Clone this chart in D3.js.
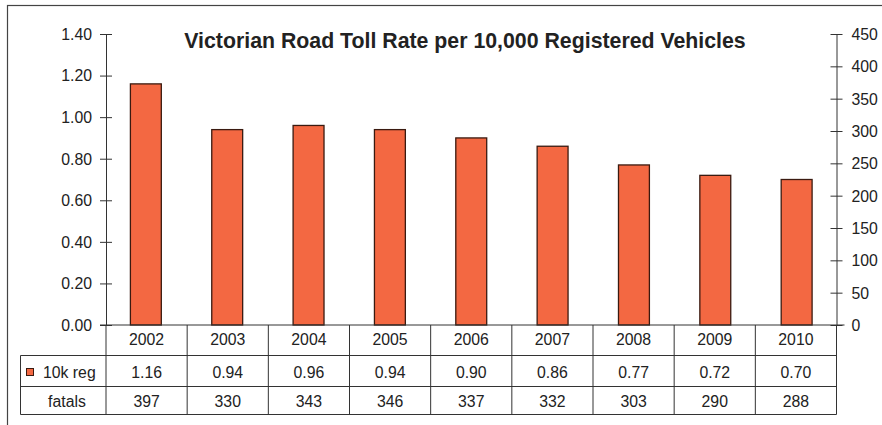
<!DOCTYPE html>
<html><head><meta charset="utf-8">
<script src="https://cdn.jsdelivr.net/npm/d3@7"></script>
<style>body{margin:0;background:#fff}svg{display:block}text{font-family:Arial,"Liberation Sans",sans-serif}</style>
</head><body>
<svg id="c" width="882" height="425"></svg>
<script>
const years = ["2002","2003","2004","2005","2006","2007","2008","2009","2010"];
const rate10k = [1.16,0.94,0.96,0.94,0.90,0.86,0.77,0.72,0.70];
const fatals = [397,330,343,346,337,332,303,290,288];
const leftTicks = [0,0.2,0.4,0.6,0.8,1.0,1.2,1.4];
const rightTicks = [0,50,100,150,200,250,300,350,400,450];
const title = "Victorian Road Toll Rate per 10,000 Registered Vehicles";
const seriesName = "10k reg", row2Name = "fatals";

const FONT = "Arial, 'Liberation Sans', sans-serif";
const FS = 15.8;
const svg = d3.select("#c");
const L = 106, R = 836.5, T = 34, B = 325;
const barColor = "#f36842";
svg.append("rect").attr("x",7.5).attr("y",5.5).attr("width",880).attr("height",425).attr("fill","none").attr("stroke","#444").attr("stroke-width",1.2);

const x = d3.scaleBand().domain(years).range([L,R]).paddingInner(0.62).paddingOuter(0.3);
const xc = d3.scaleBand().domain(years).range([L,R]);
const y = d3.scaleLinear().domain([0,1.4]).range([B,T]);
const y2 = d3.scaleLinear().domain([0,450]).range([B,T]);

svg.append("text").attr("x",465).attr("y",48).attr("text-anchor","middle").attr("font-size",21.3).attr("font-weight","bold").attr("fill","#222").text(title);

svg.selectAll(".bar").data(years).join("rect")
  .attr("x",d=>x(d)).attr("y",(d,i)=>y(rate10k[i])).attr("width",x.bandwidth()).attr("height",(d,i)=>B-y(rate10k[i]))
  .attr("fill",barColor).attr("stroke","#3a1a10").attr("stroke-width",1.3);

// left axis
const la = svg.append("g").attr("transform",`translate(${L},0)`)
  .call(d3.axisLeft(y).tickValues(leftTicks).tickFormat(d3.format(".2f")).tickSize(6).tickSizeOuter(0));
la.attr("font-size",FS).attr("font-family",FONT);
la.selectAll(".tick line").attr("x1",-6).attr("x2",6).attr("stroke","#333");
la.selectAll("text").attr("x",-14).attr("dy","0.34em").attr("fill","#222");
la.select(".domain").attr("stroke","#333");

// right axis
const ra = svg.append("g").attr("transform",`translate(${R},0)`)
  .call(d3.axisRight(y2).tickValues(rightTicks).tickSize(6).tickSizeOuter(0));
ra.attr("font-size",FS).attr("font-family",FONT);
ra.selectAll(".tick line").attr("x1",-6).attr("x2",6).attr("stroke","#333");
ra.selectAll("text").attr("x",15).attr("dy","0.34em").attr("fill","#222");
ra.select(".domain").attr("stroke","#333");

// table
const g = svg.append("g").attr("stroke","#333").attr("stroke-width",1);
const rows = [B, 355.5, 386.5, 414.5];
const TL = 20.5;
g.append("line").attr("x1",L-6).attr("x2",R+8).attr("y1",B).attr("y2",B);
g.append("line").attr("x1",TL).attr("x2",R).attr("y1",rows[1]).attr("y2",rows[1]);
g.append("line").attr("x1",TL).attr("x2",R).attr("y1",rows[2]).attr("y2",rows[2]);
g.append("line").attr("x1",TL).attr("x2",R).attr("y1",rows[3]).attr("y2",rows[3]);
g.append("line").attr("x1",TL).attr("x2",TL).attr("y1",rows[1]).attr("y2",rows[3]);
years.forEach(d=>{
  g.append("line").attr("x1",xc(d)).attr("x2",xc(d)).attr("y1",B).attr("y2",rows[3]);
});
g.append("line").attr("x1",R).attr("x2",R).attr("y1",B).attr("y2",rows[3]);

const ts = svg.append("g").attr("font-size",FS).attr("fill","#222").attr("text-anchor","middle");
years.forEach((d,i)=>{
  const cx = xc(d)+xc.bandwidth()/2;
  ts.append("text").attr("x",cx).attr("y",345).text(d);
  ts.append("text").attr("x",cx).attr("y",377.5).text(rate10k[i].toFixed(2));
  ts.append("text").attr("x",cx).attr("y",407).text(fatals[i]);
});
svg.append("rect").attr("x",26.5).attr("y",368.5).attr("width",7).attr("height",7).attr("fill",barColor).attr("stroke","#3a1a10");
svg.append("text").attr("x",43).attr("y",377.5).attr("font-size",FS).attr("fill","#222").text(seriesName);
svg.append("text").attr("x",67).attr("y",407).attr("font-size",FS).attr("fill","#222").attr("text-anchor","middle").text(row2Name);
</script>
</body></html>
